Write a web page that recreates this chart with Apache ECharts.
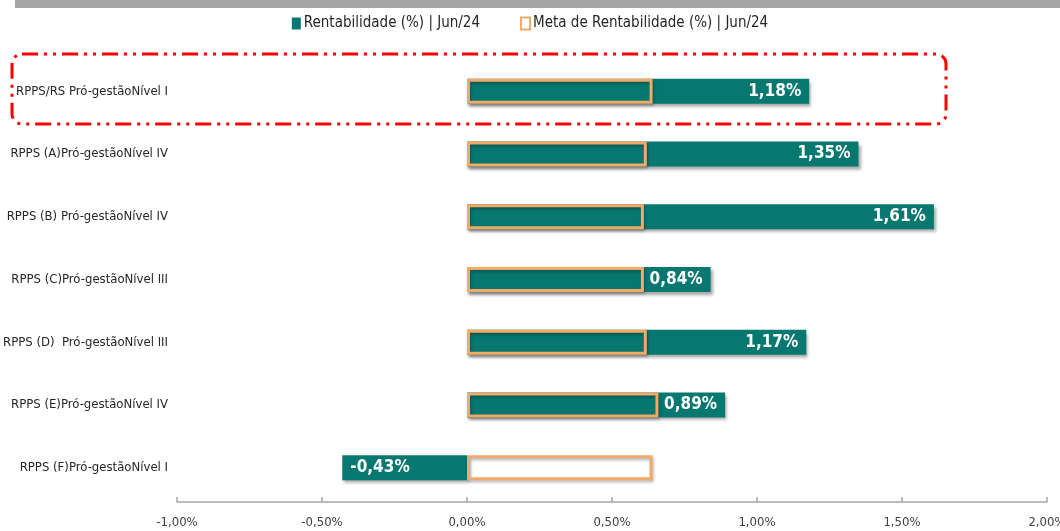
<!DOCTYPE html>
<html>
<head>
<meta charset="utf-8">
<script src="https://cdn.jsdelivr.net/npm/echarts@6/dist/echarts.min.js"></script>
<style>
  html, body { margin: 0; padding: 0; background: #fff; }
  #chart { width: 1060px; height: 531px; }
</style>
</head>
<body>
<div id="chart"></div>
<script>
// ---- data ----
const categories = [
  'RPPS/RS Pró-gestãoNível I',
  'RPPS (A)Pró-gestãoNível IV',
  'RPPS (B) Pró-gestãoNível IV',
  'RPPS (C)Pró-gestãoNível III',
  'RPPS (D)  Pró-gestãoNível III',
  'RPPS (E)Pró-gestãoNível IV',
  'RPPS (F)Pró-gestãoNível I'
];
const rentabilidade = [1.18, 1.35, 1.61, 0.84, 1.17, 0.89, -0.43];
const meta = [0.64, 0.62, 0.61, 0.61, 0.62, 0.66, 0.64];
const axisTicks = [-1, -0.5, 0, 0.5, 1, 1.5, 2];

const TEAL = '#077870';
const ORANGE = '#f3aa66';
const FONT = '"Liberation Sans Narrow", "DejaVu Sans Condensed", "Open Sans", sans-serif';

function pct(v) {
  return v.toFixed(2).replace('.', ',') + '%';
}

// ============================================
// CHART
// ============================================

const chart = echarts.init(document.getElementById('chart'));

const option = {
  backgroundColor: '#fff',
  animation: false,
  textStyle: { fontFamily: FONT },
  legend: {
    top: 11,
    left: 'center',
    itemGap: 40,
    itemWidth: 9,
    itemHeight: 12,
    icon: 'rect',
    textStyle: { fontFamily: FONT, fontSize: 15, color: '#262626', padding: [0, 0, 0, -2] },
    data: [
      { name: 'Rentabilidade (%) | Jun/24', itemStyle: { color: TEAL } },
      { name: 'Meta de Rentabilidade (%) | Jun/24', itemStyle: { color: '#fff', borderColor: ORANGE, borderWidth: 2 } }
    ]
  },
  grid: { left: 177, right: 13, top: 60, bottom: 32, outerBoundsMode: 'none' },
  xAxis: {
    type: 'value',
    min: axisTicks[0],
    max: axisTicks[axisTicks.length - 1],
    interval: 0.5,
    offset: 3,
    splitLine: { show: false },
    axisLine: { show: true, lineStyle: { color: '#a6a6a6', width: 1.5 } },
    axisTick: { show: true, inside: true, length: 5, lineStyle: { color: '#a6a6a6', width: 1.5 } },
    axisLabel: {
      fontFamily: FONT, fontSize: 13, color: '#404040', margin: 14,
      formatter: v => pct(v)
    }
  },
  yAxis: {
    type: 'category',
    inverse: true,
    data: categories,
    axisLine: { show: false },
    axisTick: { show: false },
    axisLabel: { fontFamily: FONT, fontSize: 13, color: '#262626', margin: 9 }
  },
  series: [
    {
      name: 'Rentabilidade (%) | Jun/24',
      type: 'bar',
      barWidth: 25,
      barGap: '-100%',
      z: 2,
      data: rentabilidade.map(v => ({
        value: v,
        label: { position: v < 0 ? 'insideLeft' : 'insideRight' }
      })),
      itemStyle: {
        color: TEAL,
        shadowColor: 'rgba(0,0,0,0.35)',
        shadowBlur: 3,
        shadowOffsetX: 2,
        shadowOffsetY: 3
      },
      label: {
        show: true,
        color: '#fff',
        fontFamily: FONT,
        fontWeight: 'bold',
        fontSize: 17,
        distance: 8,
        formatter: p => pct(p.value)
      }
    },
    {
      name: 'Meta de Rentabilidade (%) | Jun/24',
      type: 'bar',
      barWidth: 25,
      barGap: '-100%',
      z: 3,
      data: meta,
      itemStyle: {
        color: 'rgba(0,0,0,0)',
        borderColor: ORANGE,
        borderWidth: 3,
        shadowColor: 'rgba(0,0,0,0.3)',
        shadowBlur: 3,
        shadowOffsetX: 1,
        shadowOffsetY: 2
      }
    }
  ],
  graphic: [
    {
      type: 'rect',
      shape: { x: 15, y: 0, width: 1045, height: 8 },
      style: { fill: '#a6a6a6' },
      silent: true
    },
    {
      type: 'rect',
      shape: { x: 12, y: 54, width: 934, height: 70, r: 10 },
      style: {
        fill: null,
        stroke: '#ff0000',
        lineWidth: 3,
        lineDash: [16, 6, 3, 6, 3, 6]
      },
      silent: true,
      z: 10
    }
  ]
};

chart.setOption(option);
</script>
</body>
</html>
